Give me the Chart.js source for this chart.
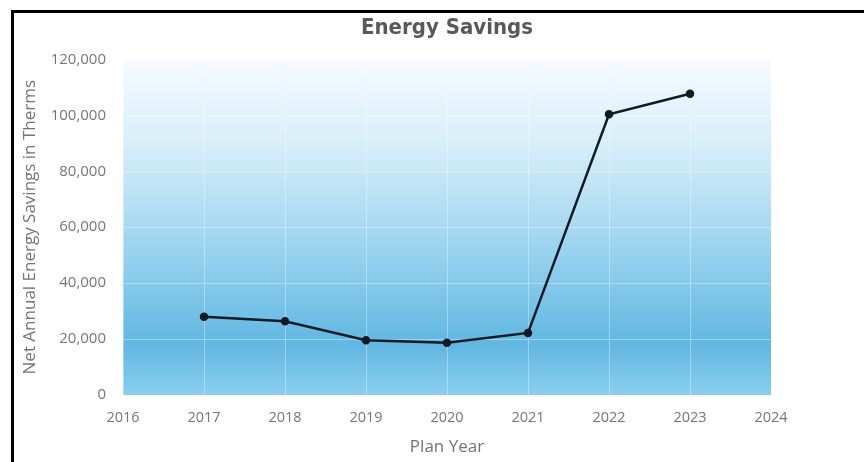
<!DOCTYPE html>
<html>
<head>
<meta charset="utf-8">
<script src="https://cdn.jsdelivr.net/npm/chart.js@4/dist/chart.umd.min.js"></script>
<style>
  html, body { margin: 0; padding: 0; background: #ffffff; }
  #wrap { position: relative; width: 864px; height: 462px; overflow: hidden; }
  #frame { position: absolute; left: 11px; top: 10px; width: 900px; height: 500px;
           border-top: 3px solid #000; border-left: 3px solid #000; box-sizing: border-box; pointer-events: none; }
  canvas { position: absolute; left: 0; top: 0; }
</style>
</head>
<body>
<div id="wrap">
  <canvas id="c" width="864" height="462"></canvas>
  <div id="frame"></div>
</div>
<script>
const chartTitle = 'Energy Savings';
const xAxisTitle = 'Plan Year';
const yAxisTitle = 'Net Annual Energy Savings in Therms';
const planYears = [2017, 2018, 2019, 2020, 2021, 2022, 2023];
const netSavings = [28000, 26400, 19600, 18700, 22200, 100400, 107700];
const xTickRange = [2016, 2024];
const yTickRange = [0, 120000];
const yTickStep = 20000;

const points = planYears.map((y, i) => ({ x: y, y: netSavings[i] }));

const plotBg = {
  id: 'plotBg',
  beforeDraw(chart) {
    const { ctx, chartArea: a } = chart;
    const g = ctx.createLinearGradient(0, a.top, 0, a.bottom);
    g.addColorStop(0.00, '#f5fbff');
    g.addColorStop(0.25, '#d8eef9');
    g.addColorStop(0.50, '#a8d9f1');
    g.addColorStop(0.70, '#7ec6e9');
    g.addColorStop(0.85, '#62b7e1');
    g.addColorStop(1.00, '#8acfef');
    ctx.save();
    ctx.fillStyle = g;
    ctx.fillRect(a.left, a.top, a.right - a.left, a.bottom - a.top);
    ctx.restore();
  }
};

new Chart(document.getElementById('c'), {
  type: 'line',
  data: {
    datasets: [{
      data: points,
      borderColor: '#0f1b26',
      backgroundColor: '#0f1b26',
      borderWidth: 2.5,
      pointRadius: 3,
      pointHoverRadius: 3,
      tension: 0,
      fill: false
    }]
  },
  options: {
    responsive: false,
    animation: false,
    devicePixelRatio: 1,
    layout: { padding: { left: 14, right: 93, top: 0, bottom: 0 } },
    plugins: {
      legend: { display: false },
      tooltip: { enabled: false },
      title: {
        display: true,
        text: chartTitle,
        fullSize: false,
        color: '#595959',
        font: { family: "'Liberation Sans Narrow', 'DejaVu Sans Condensed', sans-serif", size: 22, weight: 'bold', lineHeight: 1.2 },
        padding: { top: 15, bottom: 18 }
      }
    },
    scales: {
      x: {
        type: 'linear',
        min: xTickRange[0],
        max: xTickRange[1],
        afterFit(s) { s.height = 67; },
        ticks: {
          stepSize: 1,
          padding: 14,
          color: '#767676',
          font: { family: "'Open Sans', sans-serif", size: 14.5 },
          callback: v => String(v),
          maxRotation: 0
        },
        grid: { color: 'rgba(255,255,255,0.35)', lineWidth: 1, drawTicks: false },
        border: { display: false },
        title: {
          display: true,
          text: xAxisTitle,
          color: '#737373',
          font: { family: "'Open Sans', sans-serif", size: 17, lineHeight: 1.2 },
          padding: { top: 0, bottom: 5 }
        }
      },
      y: {
        min: yTickRange[0],
        max: yTickRange[1],
        afterFit(s) { s.width = 109; },
        ticks: {
          stepSize: yTickStep,
          padding: 17,
          color: '#767676',
          font: { family: "'Open Sans', sans-serif", size: 15 },
          callback: v => v.toLocaleString('en-US')
        },
        grid: { color: 'rgba(255,255,255,0.35)', lineWidth: 1, drawTicks: false },
        border: { display: false },
        title: {
          display: true,
          text: yAxisTitle,
          color: '#737373',
          font: { family: "'Open Sans', sans-serif", size: 17, lineHeight: 1.2 },
          padding: { top: 6, bottom: 0 }
        }
      }
    }
  },
  plugins: [plotBg]
});
</script>
</body>
</html>
